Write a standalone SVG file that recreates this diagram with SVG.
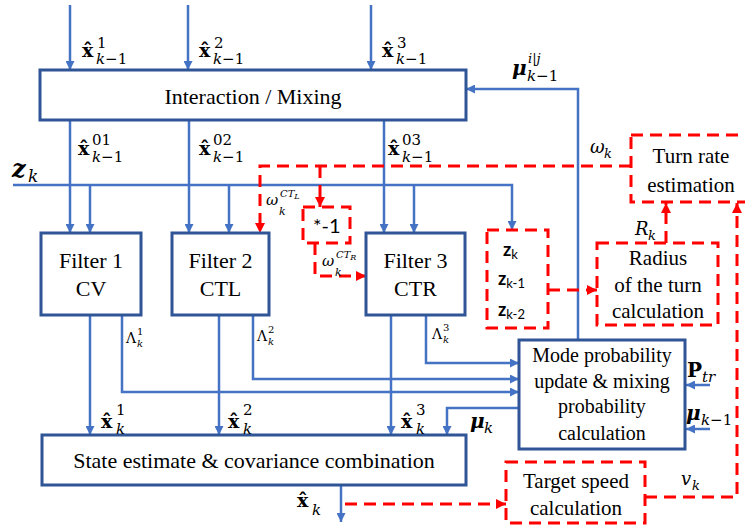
<svg xmlns="http://www.w3.org/2000/svg" width="745" height="528" viewBox="0 0 745 528">
<style>
.box{fill:#fff;stroke:#2F5597;stroke-width:3}
.rbox{fill:none;stroke:#FF0000;stroke-width:3;stroke-dasharray:12 7}
.bl{fill:none;stroke:#4472C4;stroke-width:2.5}
.rd{fill:none;stroke:#FF0000;stroke-width:3;stroke-dasharray:12 7}
.t{font-family:'Liberation Serif','Times New Roman',serif;fill:#000;text-anchor:middle}
.m{font-family:'DejaVu Serif',serif;fill:#000}
.s{font-family:Lato,'Liberation Sans',sans-serif;fill:#000}
.bx{font-weight:bold;font-size:19px}
.i{font-style:italic}
</style>
<defs>
<marker id="ab" viewBox="0 0 10 10" refX="10" refY="5" markerWidth="10" markerHeight="9" markerUnits="userSpaceOnUse" orient="auto"><path d="M0,0 L10,5 L0,10 z" fill="#4472C4"/></marker>
<marker id="ar" viewBox="0 0 10 10" refX="10" refY="5" markerWidth="10" markerHeight="10" markerUnits="userSpaceOnUse" orient="auto"><path d="M0,0 L10,5 L0,10 z" fill="#FF0000"/></marker>
</defs>
<rect width="745" height="528" fill="#fff"/>

<g id="connectors">
<path class="bl" d="M70,5 V70" marker-end="url(#ab)"/>
<path class="bl" d="M188,5 V70" marker-end="url(#ab)"/>
<path class="bl" d="M371,5 V70" marker-end="url(#ab)"/>
<path class="bl" d="M70,120 V233" marker-end="url(#ab)"/>
<path class="bl" d="M189,120 V233" marker-end="url(#ab)"/>
<path class="bl" d="M384,120 V233" marker-end="url(#ab)"/>
<path class="bl" d="M13,185 H512 V230" marker-end="url(#ab)"/>
<path class="bl" d="M90,185 V233" marker-end="url(#ab)"/>
<path class="bl" d="M229,185 V233" marker-end="url(#ab)"/>
<path class="bl" d="M414,185 V233" marker-end="url(#ab)"/>
<path class="bl" d="M90,315 V435" marker-end="url(#ab)"/>
<path class="bl" d="M219,315 V435" marker-end="url(#ab)"/>
<path class="bl" d="M391,315 V435" marker-end="url(#ab)"/>
<path class="bl" d="M122,315 V392 H519" marker-end="url(#ab)"/>
<path class="bl" d="M253,315 V379 H519" marker-end="url(#ab)"/>
<path class="bl" d="M426,315 V363 H519" marker-end="url(#ab)"/>
<path class="bl" d="M519,408 H447 V435" marker-end="url(#ab)"/>
<path class="bl" d="M578,340 V89 H466" marker-end="url(#ab)"/>
<path class="bl" d="M710,385 H686" marker-end="url(#ab)"/>
<path class="bl" d="M710,429 H686" marker-end="url(#ab)"/>
<path class="bl" d="M341,485 V522" marker-end="url(#ab)"/>
<path class="rd" d="M631,166 H260 V233" marker-end="url(#ar)"/>
<path class="rd" d="M320,166 V207" marker-end="url(#ar)"/>
<path class="rd" d="M315,243 V276 H366" marker-end="url(#ar)"/>
<path class="rd" d="M548,290 H597" marker-end="url(#ar)"/>
<path class="rd" d="M666,243 V203" marker-end="url(#ar)"/>
<path class="rd" d="M645,497 H737 V203" marker-end="url(#ar)"/>
<path class="rd" d="M345,504 H506" marker-end="url(#ar)"/>
</g>

<g id="interaction"><rect class="box" x="40" y="70" width="426" height="50"/><text class="t" x="253" y="104" font-size="22">Interaction / Mixing</text></g>
<g id="filter1"><rect class="box" x="41" y="233" width="100" height="82"/><text class="t" x="91" y="268" font-size="22">Filter 1</text><text class="t" x="91" y="296" font-size="22">CV</text></g>
<g id="filter2"><rect class="box" x="172" y="233" width="97" height="82"/><text class="t" x="220.5" y="268" font-size="22">Filter 2</text><text class="t" x="220.5" y="296" font-size="22">CTL</text></g>
<g id="filter3"><rect class="box" x="366" y="233" width="99" height="82"/><text class="t" x="415.5" y="268" font-size="22">Filter 3</text><text class="t" x="415.5" y="296" font-size="22">CTR</text></g>
<g id="mode"><rect class="box" x="519" y="340" width="166" height="109"/>
<text class="t" x="602" y="362" font-size="20">Mode probability</text>
<text class="t" x="602" y="388" font-size="20">update &amp; mixing</text>
<text class="t" x="602" y="413" font-size="20">probability</text>
<text class="t" x="602" y="440" font-size="20">calculation</text></g>
<g id="state"><rect class="box" x="42" y="435" width="424" height="50"/><text class="t" x="254" y="468" font-size="22">State estimate &amp; covariance combination</text></g>
<g id="turnrate"><rect class="rbox" x="631" y="135" width="130" height="67"/><text class="t" x="691" y="163" font-size="21">Turn rate</text><text class="t" x="691" y="192" font-size="21">estimation</text></g>
<g id="radius"><rect class="rbox" x="597" y="243" width="121" height="82"/><text class="t" x="658" y="265" font-size="21">Radius</text><text class="t" x="658" y="292" font-size="21">of the turn</text><text class="t" x="658" y="318" font-size="21">calculation</text></g>
<g id="speed"><rect class="rbox" x="506" y="462" width="139" height="61"/><text class="t" x="576" y="488" font-size="21">Target speed</text><text class="t" x="576" y="515" font-size="21">calculation</text></g>
<g id="neg"><rect class="rbox" x="303" y="207" width="47" height="36"/><text class="s" x="313" y="233" font-size="20">*-1</text></g>
<g id="zbox"><rect class="rbox" x="487" y="230" width="61" height="98"/>
<text class="s" x="503" y="256" font-size="18" font-weight="bold">z<tspan font-size="13" font-weight="normal" dy="3">k</tspan></text>
<text class="s" x="498" y="285" font-size="18" font-weight="bold">z<tspan font-size="13" font-weight="normal" dy="3">k-1</tspan></text>
<text class="s" x="498" y="316" font-size="18" font-weight="bold">z<tspan font-size="13" font-weight="normal" dy="3">k-2</tspan></text></g>

<g id="labels">
<text class="m bx" x="82" y="57">x̂</text><text class="m" x="97" y="48" font-size="15">1</text><text class="m" x="96" y="64" font-size="15"><tspan class="i">k</tspan>−1</text>
<text class="m bx" x="199" y="57">x̂</text><text class="m" x="214" y="48" font-size="15">2</text><text class="m" x="213" y="64" font-size="15"><tspan class="i">k</tspan>−1</text>
<text class="m bx" x="382" y="57">x̂</text><text class="m" x="397" y="48" font-size="15">3</text><text class="m" x="396" y="64" font-size="15"><tspan class="i">k</tspan>−1</text>
<text class="m bx" x="78" y="155">x̂</text><text class="m" x="92" y="145" font-size="15">01</text><text class="m" x="92" y="162" font-size="15"><tspan class="i">k</tspan>−1</text>
<text class="m bx" x="199" y="155">x̂</text><text class="m" x="213" y="145" font-size="15">02</text><text class="m" x="213" y="162" font-size="15"><tspan class="i">k</tspan>−1</text>
<text class="m bx" x="388" y="155">x̂</text><text class="m" x="402" y="145" font-size="15">03</text><text class="m" x="402" y="162" font-size="15"><tspan class="i">k</tspan>−1</text>
<text class="m i" x="12" y="177" font-size="24" font-weight="bold">z</text><text class="m i" x="28" y="182" font-size="17">k</text>
<text class="m i" x="266" y="205" font-size="15">ω</text><text class="m i" x="280" y="197" font-size="10">CT<tspan font-size="8" dy="2">L</tspan></text><text class="m i" x="279" y="215" font-size="11">k</text>
<text class="m i" x="322" y="266" font-size="15">ω</text><text class="m i" x="336" y="258" font-size="10">CT<tspan font-size="8" dy="2">R</tspan></text><text class="m i" x="335" y="276" font-size="11">k</text>
<text class="m" x="126" y="343" font-size="14">Λ</text><text class="m" x="137" y="335" font-size="10">1</text><text class="m i" x="137" y="347" font-size="10">k</text>
<text class="m" x="257" y="341" font-size="14">Λ</text><text class="m" x="268" y="333" font-size="10">2</text><text class="m i" x="268" y="345" font-size="10">k</text>
<text class="m" x="432" y="339" font-size="14">Λ</text><text class="m" x="443" y="331" font-size="10">3</text><text class="m i" x="443" y="343" font-size="10">k</text>
<text class="m bx" x="101" y="428">x̂</text><text class="m" x="116" y="415" font-size="15">1</text><text class="m i" x="116" y="434" font-size="15">k</text>
<text class="m bx" x="228" y="428">x̂</text><text class="m" x="243" y="415" font-size="15">2</text><text class="m i" x="243" y="434" font-size="15">k</text>
<text class="m bx" x="401" y="428">x̂</text><text class="m" x="416" y="415" font-size="15">3</text><text class="m i" x="416" y="434" font-size="15">k</text>
<text class="m i" x="470" y="428" font-size="20" font-weight="bold">μ</text><text class="m i" x="484" y="433" font-size="15">k</text>
<text class="m bx" x="297" y="507">x̂</text><text class="m i" x="312" y="515" font-size="15">k</text>
<text class="m i" x="512" y="75" font-size="20" font-weight="bold">μ</text><text class="m i" x="528" y="63" font-size="13">i|j</text><text class="m" x="527" y="81" font-size="15"><tspan class="i">k</tspan>−1</text>
<text class="m" x="687" y="377" font-size="20" font-weight="bold">P</text><text class="m i" x="702" y="382" font-size="15">tr</text>
<text class="m i" x="686" y="420" font-size="20" font-weight="bold">μ</text><text class="m" x="701" y="425" font-size="15"><tspan class="i">k</tspan>−1</text>
<text class="m i" x="590" y="153" font-size="18">ω</text><text class="m i" x="604" y="158" font-size="13">k</text>
<text class="m i" x="635" y="235" font-size="18">R</text><text class="m i" x="648" y="240" font-size="13">k</text>
<text class="m i" x="681" y="485" font-size="18">v</text><text class="m i" x="692" y="490" font-size="13">k</text>
</g>
</svg>
